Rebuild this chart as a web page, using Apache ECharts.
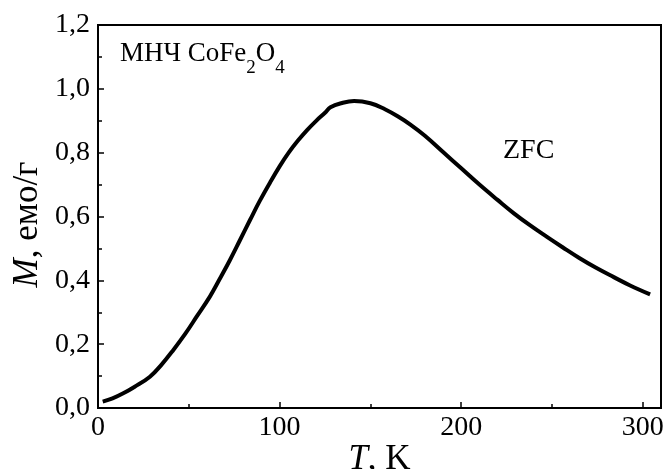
<!DOCTYPE html>
<html><head><meta charset="utf-8">
<script src="https://cdn.jsdelivr.net/npm/echarts@6/dist/echarts.min.js"></script>
<style>html,body{margin:0;padding:0;background:#fff}#c{width:665px;height:469px}</style>
</head><body><div id="c"></div>
<script>
const temperature = [2.6, 8, 13.9, 20, 28.6, 35, 41.5, 48, 54.3, 61.6, 67, 72.6, 78, 83.7, 89, 94.7, 100, 105, 110, 115, 120, 125, 128, 134, 141, 150, 158, 165, 172, 180, 190, 200, 210, 220, 229, 238, 247, 256, 265, 274, 284, 293, 304];
const magnetization = [0.020, 0.030, 0.046, 0.066, 0.098, 0.136, 0.182, 0.232, 0.286, 0.349, 0.404, 0.463, 0.524, 0.589, 0.648, 0.706, 0.757, 0.800, 0.837, 0.870, 0.899, 0.925, 0.942, 0.955, 0.962, 0.955, 0.936, 0.914, 0.888, 0.853, 0.802, 0.751, 0.700, 0.652, 0.610, 0.572, 0.537, 0.503, 0.470, 0.440, 0.410, 0.384, 0.356];
const xTicks = [0, 100, 200, 300];
const yTickLabels = ['0,0','0,2','0,4','0,6','0,8','1,0','1,2'];
const seriesName = 'ZFC';
const sampleParts = ['МНЧ CoFe', '2', 'O', '4'];

const font = 'Liberation Serif';
const mainSize = 27, subSize = 19;
const cv = document.createElement('canvas').getContext('2d');
function tw(t, s) { cv.font = s + 'px "' + font + '"'; return cv.measureText(t).width; }
const ax = 120, ay = 40, subDrop = 19;
const w0 = tw(sampleParts[0], mainSize), w1 = tw(sampleParts[1], subSize), w2 = tw(sampleParts[2], mainSize);

const chart = echarts.init(document.getElementById('c'), null, {renderer: 'canvas'});
chart.setOption({
  animation: false,
  grid: {left: 98, right: 4, top: 25, bottom: 61, outerBoundsMode: 'none', containLabel: false,
    show: true, borderColor: '#000', borderWidth: 2, backgroundColor: 'transparent'},
  xAxis: {
    type: 'value', min: 0, max: 310, interval: 100,
    name: '{i|T}, K', nameLocation: 'middle', nameGap: 34, nameMoveOverlap: false,
    nameTextStyle: {fontFamily: font, fontSize: 35, color: '#000', rich: {i: {fontFamily: font, fontStyle: 'italic', fontSize: 35, color: '#000'}}},
    axisLine: {lineStyle: {color: '#000', width: 2}},
    axisTick: {inside: true, length: 6, lineStyle: {color: '#000', width: 1.5}},
    minorTick: {show: true, splitNumber: 2, length: 4, lineStyle: {color: '#000', width: 1.5}},
    splitLine: {show: false},
    axisLabel: {fontFamily: font, fontSize: 28, color: '#000', margin: 6, showMaxLabel: false,
      formatter: v => xTicks.includes(v) ? String(v) : ''}
  },
  yAxis: {
    type: 'value', min: 0, max: 1.2, interval: 0.2,
    name: '{i|M}, емо/г', nameLocation: 'middle', nameGap: 53, nameRotate: 90, nameMoveOverlap: false,
    nameTextStyle: {fontFamily: font, fontSize: 35, color: '#000', padding: [0, 16, 0, 0],
      rich: {i: {fontFamily: font, fontStyle: 'italic', fontSize: 35, color: '#000'}}},
    axisLine: {lineStyle: {color: '#000', width: 2}},
    axisTick: {inside: true, length: 6, lineStyle: {color: '#000', width: 1.5}},
    minorTick: {show: true, splitNumber: 2, length: 4, lineStyle: {color: '#000', width: 1.5}},
    splitLine: {show: false},
    axisLabel: {fontFamily: font, fontSize: 28, color: '#000', margin: 8,
      formatter: v => yTickLabels[Math.round(v / 0.2)]}
  },
  graphic: [
    {type: 'text', left: ax, top: ay, style: {text: sampleParts[0], fontFamily: font, fontSize: mainSize, fill: '#000'}},
    {type: 'text', left: ax + w0, top: ay + subDrop, style: {text: sampleParts[1], fontFamily: font, fontSize: subSize, fill: '#000'}},
    {type: 'text', left: ax + w0 + w1, top: ay, style: {text: sampleParts[2], fontFamily: font, fontSize: mainSize, fill: '#000'}},
    {type: 'text', left: ax + w0 + w1 + w2, top: ay + subDrop, style: {text: sampleParts[3], fontFamily: font, fontSize: subSize, fill: '#000'}},
    {type: 'text', left: 503, top: 137, style: {text: seriesName, fontFamily: font, fontSize: 28, fill: '#000'}}
  ],
  series: [{
    name: seriesName, type: 'line', smooth: 0.4, showSymbol: false,
    data: temperature.map((t, i) => [t, magnetization[i]]),
    lineStyle: {color: '#000', width: 4}
  }]
});
</script></body></html>
